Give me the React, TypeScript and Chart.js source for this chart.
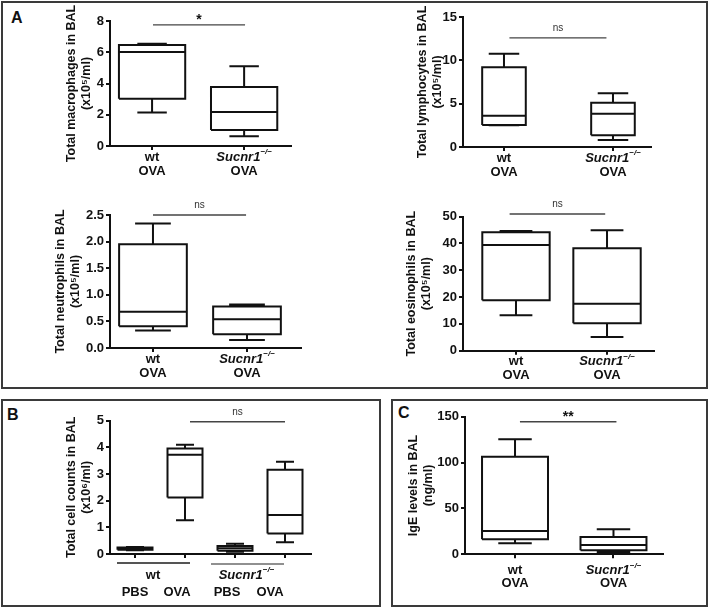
import React, { useEffect, useRef } from 'react';
import { Chart, registerables } from 'chart.js';
Chart.register(...registerables);

const FONT = "'Liberation Sans', Arial, Helvetica, sans-serif";

// ---- data (box stats: min, Q1, median, Q3, max) ----
const macrophagesWt = [2.15, 3.03, 6.02, 6.47, 6.54];
const macrophagesKo = [0.62, 1.03, 2.18, 3.78, 5.1];
const lymphocytesWt = [2.5, 2.55, 3.6, 9.2, 10.75];
const lymphocytesKo = [0.8, 1.35, 3.85, 5.1, 6.2];
const neutrophilsWt = [0.33, 0.41, 0.68, 1.95, 2.34];
const neutrophilsKo = [0.15, 0.26, 0.54, 0.78, 0.82];
const eosinophilsWt = [13.2, 18.8, 39.4, 44.2, 44.7];
const eosinophilsKo = [5.1, 10.2, 17.5, 38.2, 44.9];
const totalWtPbs = [0.14, 0.16, 0.2, 0.24, 0.26];
const totalWtOva = [1.27, 2.12, 3.72, 3.96, 4.1];
const totalKoPbs = [0.08, 0.12, 0.22, 0.3, 0.38];
const totalKoOva = [0.44, 0.77, 1.46, 3.16, 3.46];
const igeWt = [12, 16.3, 25.3, 106.4, 125.3];
const igeKo = [2.1, 4.3, 10.1, 18.9, 27.2];

// significance bars: [x from, x to, y level]
const sigMacrophages = [1.01, 2.01, 7.75];
const sigLymphocytes = [1.05, 1.94, 12.6];
const sigNeutrophils = [1.0, 1.99, 2.5];
const sigEosinophils = [0.93, 1.98, 51];
const sigTotal = [2.1, 4.0, 4.96];
const sigIge = [1.05, 2.03, 144.5];

// category positions and tick labels
const twoGroups = [1, 2];
const fourGroups = [1, 2, 3, 4];
const fourGroupLabelPos = [1, 1.84, 2.84, 3.7];
const fourGroupLabels = ['PBS', 'OVA', 'PBS', 'OVA'];

type Part = { t: string; it?: boolean; sup?: boolean };
type Label = { x: number; dy: number; parts: Part[] };
type GLine = { x1: number; x2: number; dy: number; color: string; w: number };
type Spec = {
  key: string;
  box: [number, number, number, number];
  padTop: number;
  xAxisH: number;
  yAxisW: number;
  yTitle: string[];
  yMax: number;
  yStep: number;
  decimals: number;
  xMin: number;
  xMax: number;
  positions: number[];
  stats: number[][];
  half: number;
  cap: number;
  sig: number[];
  sigText: string;
  labels: Label[];
  lines?: GLine[];
};

const WT: Part[] = [{ t: 'wt' }];
const OVA: Part[] = [{ t: 'OVA' }];
const KO: Part[] = [
  { t: 'Sucnr1', it: true },
  { t: '\u2212/\u2212', it: true, sup: true },
];

const twoLabels = (d1: number, d2: number): Label[] => [
  { x: twoGroups[0], dy: d1, parts: WT },
  { x: twoGroups[0], dy: d2, parts: OVA },
  { x: twoGroups[1], dy: d1, parts: KO },
  { x: twoGroups[1], dy: d2, parts: OVA },
];

const specs: Spec[] = [
  {
    key: 'mac', box: [64, 3, 228, 183], padTop: 18, xAxisH: 40, yAxisW: 46,
    yTitle: ['Total macrophages in BAL', '(x10\u2075/ml)'], yMax: 8, yStep: 2, decimals: 0,
    xMin: 0.543, xMax: 2.52, positions: twoGroups, stats: [macrophagesWt, macrophagesKo],
    half: 0.36, cap: 0.16, sig: sigMacrophages, sigText: '*', labels: twoLabels(11, 25),
  },
  {
    key: 'lym', box: [415, 3, 237, 183], padTop: 14, xAxisH: 39, yAxisW: 48,
    yTitle: ['Total lymphocytes in BAL', '(x10\u2075/ml)'], yMax: 15, yStep: 5, decimals: 0,
    xMin: 0.624, xMax: 2.358, positions: twoGroups, stats: [lymphocytesWt, lymphocytesKo],
    half: 0.2, cap: 0.14, sig: sigLymphocytes, sigText: 'ns', labels: twoLabels(11, 25),
  },
  {
    key: 'neu', box: [53, 195, 249, 191], padTop: 20, xAxisH: 38, yAxisW: 57,
    yTitle: ['Total neutrophils in BAL', '(x10\u2075/ml)'], yMax: 2.5, yStep: 0.5, decimals: 1,
    xMin: 0.543, xMax: 2.585, positions: twoGroups, stats: [neutrophilsWt, neutrophilsKo],
    half: 0.36, cap: 0.19, sig: sigNeutrophils, sigText: 'ns', labels: twoLabels(11, 25),
  },
  {
    key: 'eos', box: [404, 196, 251, 190], padTop: 20.7, xAxisH: 35.3, yAxisW: 59,
    yTitle: ['Total eosinophils in BAL', '(x10\u2075/ml)'], yMax: 50, yStep: 10, decimals: 0,
    xMin: 0.418, xMax: 2.527, positions: twoGroups, stats: [eosinophilsWt, eosinophilsKo],
    half: 0.37, cap: 0.18, sig: sigEosinophils, sigText: 'ns', labels: twoLabels(11, 25),
  },
  {
    key: 'tot', box: [64, 404, 248, 199], padTop: 16.7, xAxisH: 49, yAxisW: 46,
    yTitle: ['Total cell counts in BAL', '(x10\u2076/ml)'], yMax: 5, yStep: 1, decimals: 0,
    xMin: 0.5, xMax: 4.54, positions: fourGroups,
    stats: [totalWtPbs, totalWtOva, totalKoPbs, totalKoOva],
    half: 0.35, cap: 0.18, sig: sigTotal, sigText: 'ns',
    labels: [
      { x: 1.36, dy: 21, parts: WT },
      { x: 3.23, dy: 21, parts: KO },
      ...fourGroupLabelPos.map((x, i) => ({ x, dy: 38, parts: [{ t: fourGroupLabels[i] }] })),
    ],
    lines: [
      { x1: 0.64, x2: 2.1, dy: 9, color: '#555', w: 2 },
      { x1: 2.52, x2: 3.98, dy: 10, color: '#222', w: 1.2 },
    ],
  },
  {
    key: 'ige', box: [406, 404, 258, 199], padTop: 12.7, xAxisH: 48.7, yAxisW: 59,
    yTitle: ['IgE levels in BAL', '(ng/ml)'], yMax: 150, yStep: 50, decimals: 0,
    xMin: 0.492, xMax: 2.513, positions: twoGroups, stats: [igeWt, igeKo],
    half: 0.335, cap: 0.17, sig: sigIge, sigText: '**', labels: twoLabels(16, 29),
  },
];

function boxSegments(stats: number[][], positions: number[], half: number, cap: number) {
  const pts: { x: number; y: number | null }[] = [];
  stats.forEach((s, i) => {
    const [mn, q1, md, q3, mx] = s;
    const c = positions[i];
    pts.push({ x: c - half, y: q1 }, { x: c + half, y: q1 }, { x: c + half, y: q3 }, { x: c - half, y: q3 }, { x: c - half, y: q1 }, { x: c, y: null });
    pts.push({ x: c - half, y: md }, { x: c + half, y: md }, { x: c, y: null });
    pts.push({ x: c, y: q3 }, { x: c, y: mx }, { x: c, y: null }, { x: c - cap, y: mx }, { x: c + cap, y: mx }, { x: c, y: null });
    pts.push({ x: c, y: q1 }, { x: c, y: mn }, { x: c, y: null }, { x: c - cap, y: mn }, { x: c + cap, y: mn }, { x: c, y: null });
  });
  return pts;
}

function drawParts(ctx: CanvasRenderingContext2D, parts: Part[], cx: number, cy: number, size: number) {
  const fontFor = (p: Part) => `${p.it ? 'italic ' : ''}bold ${p.sup ? Math.round(size * 0.62) : size}px ${FONT}`;
  let total = 0;
  const widths = parts.map((p) => {
    ctx.font = fontFor(p);
    const w = ctx.measureText(p.t).width;
    total += w;
    return w;
  });
  let x = cx - total / 2;
  ctx.textAlign = 'left';
  ctx.textBaseline = 'middle';
  ctx.fillStyle = '#111';
  parts.forEach((p, i) => {
    ctx.font = fontFor(p);
    ctx.fillText(p.t, x, p.sup ? cy - size * 0.38 : cy);
    x += widths[i];
  });
}

function makeDecor(spec: Spec) {
  return {
    id: 'decor_' + spec.key,
    afterDatasetsDraw(chart: any) {
      const { ctx, chartArea } = chart;
      const xs = chart.scales.x;
      const ys = chart.scales.y;
      ctx.save();
      const sx = (xs.getPixelForValue(spec.sig[0]) + xs.getPixelForValue(spec.sig[1])) / 2;
      const sy = ys.getPixelForValue(spec.sig[2]);
      const star = spec.sigText.includes('*');
      ctx.fillStyle = star ? '#111' : '#333';
      ctx.font = star ? `bold 14px ${FONT}` : `10px ${FONT}`;
      ctx.textAlign = 'center';
      ctx.textBaseline = 'alphabetic';
      ctx.fillText(spec.sigText, sx, star ? sy - 0.5 : sy - 7);
      (spec.lines || []).forEach((l) => {
        ctx.beginPath();
        ctx.strokeStyle = l.color;
        ctx.lineWidth = l.w;
        const yy = chartArea.bottom + l.dy;
        ctx.moveTo(xs.getPixelForValue(l.x1), yy);
        ctx.lineTo(xs.getPixelForValue(l.x2), yy);
        ctx.stroke();
      });
      spec.labels.forEach((l) => drawParts(ctx, l.parts, xs.getPixelForValue(l.x), chartArea.bottom + l.dy, 13));
      ctx.restore();
    },
  };
}

function buildConfig(spec: Spec): any {
  const axisGrid = { drawOnChartArea: false, drawTicks: true, tickLength: 4, color: '#111', lineWidth: 2 };
  const axisBorder = { color: '#111', width: 2 };
  return {
    type: 'scatter',
    data: {
      datasets: [
        {
          data: boxSegments(spec.stats, spec.positions, spec.half, spec.cap),
          showLine: true,
          borderColor: '#111',
          borderWidth: 2,
          borderDash: [1000, 0],
          borderJoinStyle: 'miter',
          pointRadius: 0,
          spanGaps: false,
          clip: false,
        },
        {
          data: [
            { x: spec.sig[0], y: spec.sig[2] },
            { x: spec.sig[1], y: spec.sig[2] },
          ],
          showLine: true,
          borderColor: '#444',
          borderWidth: 1.3,
          pointRadius: 0,
          clip: false,
        },
      ],
    },
    options: {
      responsive: false,
      animation: false,
      devicePixelRatio: 1,
      events: [],
      layout: { padding: { top: spec.padTop, left: 0, right: 0, bottom: 0 } },
      plugins: { legend: { display: false }, tooltip: { enabled: false } },
      scales: {
        x: {
          type: 'linear',
          min: spec.xMin,
          max: spec.xMax,
          afterBuildTicks: (ax: any) => {
            ax.ticks = spec.positions.map((v) => ({ value: v }));
          },
          afterFit: (s: any) => {
            s.height = spec.xAxisH;
          },
          ticks: { display: false },
          grid: axisGrid,
          border: axisBorder,
        },
        y: {
          type: 'linear',
          min: 0,
          max: spec.yMax,
          afterFit: (s: any) => {
            s.width = spec.yAxisW;
          },
          ticks: {
            stepSize: spec.yStep,
            padding: 2,
            color: '#111',
            font: { family: FONT, size: 13, weight: 'bold' },
            callback: (v: number) => v.toFixed(spec.decimals),
          },
          title: {
            display: true,
            text: spec.yTitle,
            color: '#111',
            padding: 0,
            font: { family: FONT, size: 12.5, weight: 'bold', lineHeight: '15px' },
          },
          grid: axisGrid,
          border: axisBorder,
        },
      },
    },
    plugins: [makeDecor(spec)],
  };
}

function Plot({ spec }: { spec: Spec }) {
  const ref = useRef<HTMLCanvasElement>(null);
  useEffect(() => {
    const chart = new Chart(ref.current as HTMLCanvasElement, buildConfig(spec));
    return () => chart.destroy();
  }, [spec]);
  const [l, t, w, h] = spec.box;
  return (
    <canvas
      ref={ref}
      width={w}
      height={h}
      style={{ position: 'absolute', left: l, top: t, width: w, height: h }}
    />
  );
}

const frame = (left: number, top: number, width: number, height: number): React.CSSProperties => ({
  position: 'absolute',
  left,
  top,
  width,
  height,
  border: '2px solid #3a3a3a',
  boxSizing: 'border-box',
});

const letter = (left: number, top: number): React.CSSProperties => ({
  position: 'absolute',
  left,
  top,
  font: `bold 16px ${FONT}`,
  lineHeight: '16px',
  color: '#111',
});

export default function App() {
  useEffect(() => {
    document.body.style.margin = '0';
  }, []);
  return (
    <div style={{ position: 'absolute', left: 0, top: 0, width: 709, height: 608, background: '#fff', overflow: 'hidden' }}>
      <div style={frame(1, 1, 707, 388)} />
      <div style={frame(1, 399, 380, 208)} />
      <div style={frame(391, 399, 317, 208)} />
      <div style={letter(11, 10)}>A</div>
      <div style={letter(7, 407)}>B</div>
      <div style={letter(398, 405)}>C</div>
      {specs.map((s) => (
        <Plot key={s.key} spec={s} />
      ))}
    </div>
  );
}
